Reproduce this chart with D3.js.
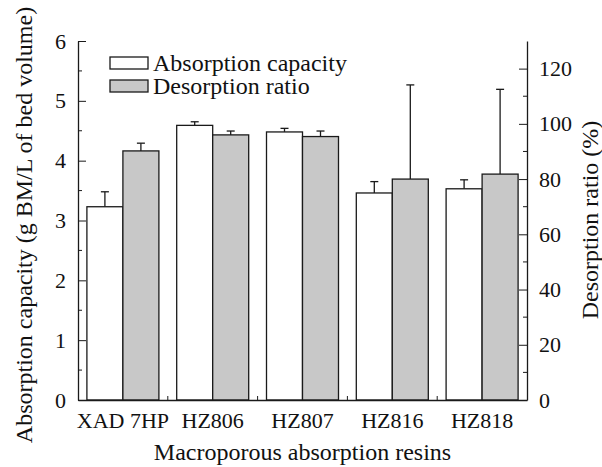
<!DOCTYPE html>
<html>
<head>
<meta charset="utf-8">
<script src="https://cdn.jsdelivr.net/npm/d3@7"></script>
<style>
  body { margin: 0; background: #fff; }
  text { font-family: "Liberation Serif", "Times New Roman", serif; fill: #111; }
</style>
</head>
<body>
<div id="chart"></div>
<script>
// resins on the x axis
const resins = ["XAD 7HP", "HZ806", "HZ807", "HZ816", "HZ818"];
// absorption capacity, g BM/L of bed volume (left axis)
const capacity    = [3.23, 4.59, 4.48, 3.46, 3.53];
const capacityErr = [0.25, 0.06, 0.06, 0.19, 0.15];
// desorption ratio, % (right axis)
const ratio    = [90.2, 96.0, 95.4, 80.0, 81.8];
const ratioErr = [2.8, 1.4, 2.0, 34.1, 30.7];
const leftTicks = [0, 1, 2, 3, 4, 5, 6];
const rightTicks = [0, 20, 40, 60, 80, 100, 120];

const W = 602, H = 467;
const margin = {top: 41, right: 75, bottom: 67, left: 78};
const iw = W - margin.left - margin.right,
      ih = H - margin.top - margin.bottom;

const svg = d3.select("#chart").append("svg")
    .attr("width", W)
    .attr("height", H);

const g = svg.append("g")
    .attr("transform", "translate(" + margin.left + "," + margin.top + ")");

const x = d3.scaleBand().domain(resins).range([0, iw]).paddingInner(0).paddingOuter(0);
const yL = d3.scaleLinear().domain([0, 6]).range([ih, 0]);
const yR = d3.scaleLinear().domain([0, 130]).range([ih, 0]);
const barW = 36;

const stroke = "#1a1a1a";

function errBar(sel, cx, yTop, yEnd) {
    sel.append("line")
        .attr("x1", cx).attr("x2", cx)
        .attr("y1", yTop).attr("y2", yEnd)
        .attr("stroke", stroke).attr("stroke-width", 1.3);
    sel.append("line")
        .attr("x1", cx - 4).attr("x2", cx + 4)
        .attr("y1", yEnd).attr("y2", yEnd)
        .attr("stroke", stroke).attr("stroke-width", 1.3);
}

// bars + error bars (upper only)
resins.forEach(function(r, i) {
    const c = x(r) + x.bandwidth() / 2;
    const eg = g.append("g");
    errBar(eg, c - barW / 2, yL(capacity[i]), yL(capacity[i] + capacityErr[i]));
    errBar(eg, c + barW / 2, yR(ratio[i]), yR(ratio[i] + ratioErr[i]));
    g.append("rect")
        .attr("x", c - barW)
        .attr("y", yL(capacity[i]))
        .attr("width", barW)
        .attr("height", ih - yL(capacity[i]))
        .attr("fill", "#fff")
        .attr("stroke", stroke).attr("stroke-width", 1.3);
    g.append("rect")
        .attr("x", c)
        .attr("y", yR(ratio[i]))
        .attr("width", barW)
        .attr("height", ih - yR(ratio[i]))
        .attr("fill", "#c8c8c8")
        .attr("stroke", stroke).attr("stroke-width", 1.3);
});

// left axis
const axL = g.append("g")
    .call(d3.axisLeft(yL).tickValues(leftTicks).tickFormat(d3.format("d"))
        .tickSize(-8).tickPadding(12).tickSizeOuter(0));
// minor ticks
g.append("g").selectAll("line")
    .data(d3.range(0.5, 6, 1))
    .enter().append("line")
    .attr("x1", 0).attr("x2", 4)
    .attr("y1", d => yL(d)).attr("y2", d => yL(d))
    .attr("stroke", stroke);

// right axis
const axR = g.append("g")
    .attr("transform", "translate(" + iw + ",0)")
    .call(d3.axisRight(yR).tickValues(rightTicks).tickFormat(d3.format("d"))
        .tickSize(-8).tickPadding(12).tickSizeOuter(0));
g.append("g").selectAll("line")
    .data(d3.range(10, 130, 20))
    .enter().append("line")
    .attr("x1", iw - 4).attr("x2", iw)
    .attr("y1", d => yR(d)).attr("y2", d => yR(d))
    .attr("stroke", stroke);

// bottom axis
const axB = g.append("g")
    .attr("transform", "translate(0," + ih + ")")
    .call(d3.axisBottom(x).tickSize(0).tickPadding(12).tickSizeOuter(0));
axB.selectAll(".tick text").attr("dy", "0.71em");
g.append("g").selectAll("line")
    .data(resins.slice(1))
    .enter().append("line")
    .attr("x1", d => x(d)).attr("x2", d => x(d))
    .attr("y1", ih).attr("y2", ih - 4)
    .attr("stroke", stroke);

[axL, axR, axB].forEach(function(a) {
    a.select(".domain").attr("stroke", stroke).attr("stroke-width", 1.3);
    a.selectAll(".tick line").attr("stroke", stroke);
    a.selectAll(".tick text").attr("fill", "#111").attr("font-size", 22)
        .attr("font-family", "Liberation Serif");
});

// axis titles
svg.append("text")
    .attr("x", margin.left + iw / 2)
    .attr("y", 460)
    .attr("text-anchor", "middle")
    .attr("font-size", 24)
    .text("Macroporous absorption resins");

svg.append("text")
    .attr("transform", "translate(32,225) rotate(-90)")
    .attr("text-anchor", "middle")
    .attr("font-size", 24)
    .text("Absorption capacity (g BM/L of bed volume)");

svg.append("text")
    .attr("transform", "translate(598,220) rotate(-90)")
    .attr("text-anchor", "middle")
    .attr("font-size", 24)
    .text("Desorption ratio (%)");

// legend
const legend = svg.append("g");
const legendItems = [
    {label: "Absorption capacity", fill: "#fff", y: 57},
    {label: "Desorption ratio", fill: "#c8c8c8", y: 80}
];
legendItems.forEach(function(d) {
    legend.append("rect")
        .attr("x", 110).attr("y", d.y)
        .attr("width", 38).attr("height", 12)
        .attr("fill", d.fill)
        .attr("stroke", stroke).attr("stroke-width", 1.3);
    legend.append("text")
        .attr("x", 153).attr("y", d.y + 14)
        .attr("font-size", 24)
        .text(d.label);
});
</script>
</body>
</html>
